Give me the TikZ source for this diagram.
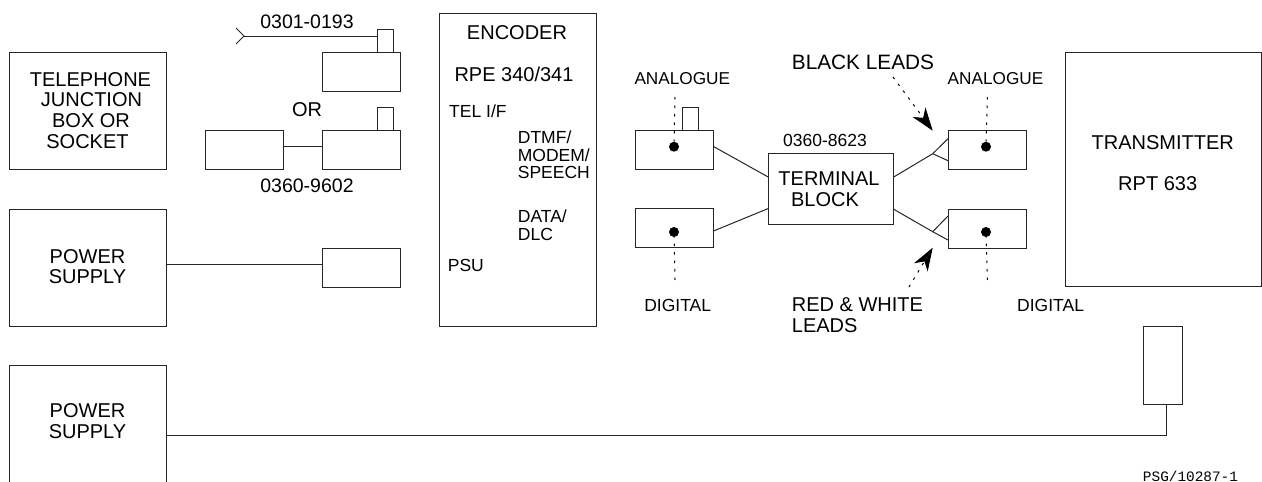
\documentclass[tikz,border=0pt]{standalone}
\usepackage{fontspec}
\setmainfont{Liberation Sans}
\newfontfamily\drawnofont{Liberation Mono}
\usetikzlibrary{arrows.meta,positioning}

\begin{document}
\begin{tikzpicture}[
    x=1pt, y=-1pt,
    node distance=0pt,
    bigfont/.style={font=\fontsize{20}{20.8}\selectfont},
    smallfont/.style={font=\fontsize{17.5}{17.8}\selectfont},
    largebox/.style={rectangle, draw=black!85, line width=1pt, inner sep=0pt, outer sep=0pt,
        minimum width=157pt, minimum height=117pt, align=center, bigfont},
    unitbox/.style={rectangle, draw=black!85, line width=1pt, inner sep=0pt, outer sep=0pt,
        minimum width=78pt, minimum height=39pt},
    jackbox/.style={rectangle, draw=black!85, line width=1pt, inner sep=0pt, outer sep=0pt,
        minimum width=16pt, minimum height=23pt},
    hole/.style={circle, fill=black, inner sep=0pt, minimum size=10pt},
    biglabel/.style={inner sep=0pt, align=left, bigfont},
    smalllabel/.style={inner sep=0pt, align=left, smallfont},
    wire/.style={line width=1pt, black!85},
    leader/.style={line width=1pt, dash pattern=on 2.5pt off 6pt},
    pointer/.style={leader, -{Stealth[length=23pt, width=16pt, inset=7pt]}}
]
\useasboundingbox (0,0) rectangle (1262,482);

\node[largebox] (phone) at (87.5,110.5) {\hspace*{6pt}TELEPHONE\\\hspace*{8pt}JUNCTION\\\hspace*{7pt}BOX OR\\SOCKET};
\node[largebox, text depth=2pt] (mains) at (87.5,267.5) {POWER\\SUPPLY};
\node[largebox, text depth=5pt] (mainstx) at (87.5,423.5) {POWER\\SUPPLY};

\node[unitbox] (modemtop) at (361,71.5) {};
\node[jackbox, anchor=south] (jacktop) at ([xshift=24pt]modemtop.north) {};
\node[unitbox, below=39pt of modemtop] (modemlow) {};
\node[jackbox, anchor=south] (jacklow) at ([xshift=24pt]modemlow.north) {};
\node[unitbox, left=39pt of modemlow] (adaptor) {};
\node[unitbox] (psu) at (361,267.5) {};
\coordinate (inlet) at (244,36);

\node[rectangle, draw=black!85, line width=1pt, inner sep=0pt, outer sep=0pt,
    minimum width=157pt, minimum height=313pt] (encoder) at (517.5,169.5) {};

\node[unitbox] (lineleft) at (674.5,149.5) {};
\node[jackbox, anchor=south] (jackleft) at ([xshift=15.5pt]lineleft.north) {};
\node[unitbox, below=39pt of lineleft] (dataleft) {};
\node[hole] (holelineleft) at (674,146.7) {};
\node[hole] (holedataleft) at (674,232) {};
\coordinate (analogueleft) at (675,97);
\coordinate (digitalleft) at (675,280);

\node[rectangle, draw=black!85, line width=1pt, inner sep=0pt, outer sep=0pt,
    minimum width=124.5pt, minimum height=70.5pt, align=center, bigfont] (terminal) at (831,189)
    {TERMINAL\hspace*{4pt}\\BLOCK\hspace*{12pt}};

\node[unitbox] (lineright) at (987,149.5) {};
\node[unitbox, below=40pt of lineright] (dataright) {};
\node[hole] (holelineright) at (986,146.7) {};
\node[hole] (holedataright) at (986,232) {};
\coordinate (analogueright) at (987.3,97);
\coordinate (digitalright) at (987.3,280);
\coordinate (forkblack) at (932.7,153.7);
\coordinate (forkred) at (932.7,231.7);

\node[rectangle, draw=black!85, line width=1pt, inner sep=0pt, outer sep=0pt,
    minimum width=196pt, minimum height=234.5pt] (transmitter) at (1163.3,169.5) {};
\node[rectangle, draw=black!85, line width=1pt, inner sep=0pt, outer sep=0pt,
    minimum width=39.5pt, minimum height=78pt] (txplug) at (1163,365) {};

\node[smalllabel, anchor=base] (leadno) at (307,28.5) {\fontsize{19.5}{20}\selectfont 0301-0193};
\node[biglabel, anchor=base] (orword) at (307,116.5) {OR};
\node[smalllabel, anchor=base] (adaptorno) at (307,192.5) {\fontsize{19.5}{20}\selectfont 0360-9602};

\node[biglabel, anchor=base] (enctitle) at (517,39) {ENCODER};
\node[biglabel, anchor=base] (encmodel) at (514,81) {RPE 340/341};
\node[smalllabel, anchor=base west] (telif) at (449,117) {TEL I/F};
\node[smalllabel, anchor=north west] (dtmf) at (517.7,130.5) {DTMF/\\MODEM/\\SPEECH};
\node[smalllabel, anchor=north west] (datadlc) at (517.7,209.5) {DATA/\\DLC};
\node[smalllabel, anchor=base west] (psuname) at (447.7,271.5) {PSU};

\node[smalllabel, anchor=base, font=\fontsize{17.2}{17.8}\selectfont] (anaone) at (682.3,84) {ANALOGUE};
\node[smalllabel, anchor=base] (digone) at (677.7,311.5) {DIGITAL};
\node[smalllabel, anchor=base, font=\fontsize{17.2}{17.8}\selectfont] (anatwo) at (995.5,84) {ANALOGUE};
\node[smalllabel, anchor=base] (digtwo) at (1050.6,311.5) {DIGITAL};
\node[smalllabel, anchor=base] (blockno) at (825,146.5) {0360-8623};
\node[biglabel, anchor=base west, font=\fontsize{20.8}{21}\selectfont] (blackleads) at (791.7,69) {BLACK LEADS};
\node[biglabel, anchor=north west] (redleads) at (791.7,297.5) {RED \& WHITE\\LEADS};
\coordinate (blackstart) at (893,77);
\coordinate (blacktip) at (932.7,130.7);
\coordinate (redstart) at (909,287);
\coordinate (redtip) at (932.7,247.7);

\node[biglabel, anchor=base] (txtitle) at (1162.7,149) {TRANSMITTER};
\node[biglabel, anchor=base] (txmodel) at (1157.7,190) {RPT 633};
\node[inner sep=0pt, anchor=base, font=\drawnofont\fontsize{14.4}{15}\selectfont] (drawno) at (1190.5,481) {PSG/10287-1};

\draw[wire] (inlet) -- (inlet -| jacktop.west);
\draw[wire] ([shift={(-8,-8)}]inlet) -- (inlet) -- ([shift={(-8,8)}]inlet);
\draw[wire] ([yshift=3.5pt]adaptor.east) -- ([yshift=3.5pt]modemlow.west);
\draw[wire] ([yshift=3.5pt]mains.east) -- ([yshift=3.5pt]psu.west);
\draw[wire] ([yshift=3pt]lineleft.east) -- ([yshift=11.7pt]terminal.west);
\draw[wire] ([yshift=-3.5pt]dataleft.east) -- ([yshift=-19.3pt]terminal.west);
\draw[wire] ([yshift=11.7pt]terminal.east) -- (forkblack);
\draw[wire] (forkblack) -- ([yshift=10.8pt]lineright.west);
\draw[wire] (forkblack) -- ([yshift=-11.2pt]lineright.west);
\draw[wire] ([yshift=-20pt]terminal.east) -- (forkred);
\draw[wire] (forkred) -- ([yshift=12.5pt]dataright.west);
\draw[wire] (forkred) -- ([yshift=-11.5pt]dataright.west);
\draw[wire] ([yshift=-12.2pt]mainstx.east) -| ([xshift=3pt]txplug.south);

\draw[leader] (analogueleft) -- (holelineleft);
\draw[leader] (digitalleft) -- (holedataleft);
\draw[leader] (analogueright) -- (holelineright);
\draw[leader] (digitalright) -- (holedataright);
\draw[pointer] (blackstart) -- (blacktip);
\draw[pointer] (redstart) -- (redtip);
\end{tikzpicture}
\end{document}
